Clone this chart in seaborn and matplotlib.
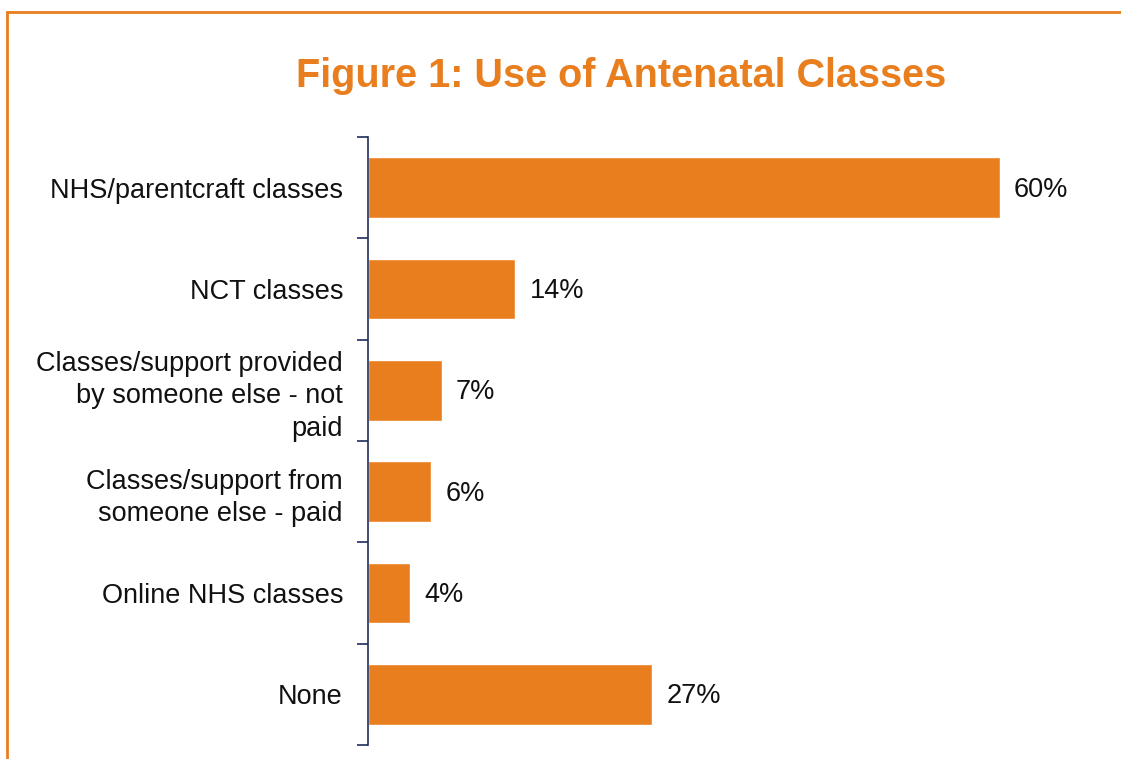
# Figure 1: uso de clases prenatales
import matplotlib.pyplot as plt
import seaborn as sns
import pandas as pd
from matplotlib.patches import Rectangle
from matplotlib.ticker import FixedLocator

categorias = [
    'NHS/parentcraft classes',
    'NCT classes',
    'Classes/support provided\nby someone else - not\npaid',
    'Classes/support from\nsomeone else - paid',
    'Online NHS classes',
    'None',
]
porcentajes = [60, 14, 7, 6, 4, 27]

naranja = '#E87E1E'
azul = '#1F2D5A'

df = pd.DataFrame({'Categoria': categorias, 'Porcentaje': porcentajes})

sns.set_style('white')
plt.rcParams['font.family'] = ['Liberation Sans', 'DejaVu Sans']

fig = plt.figure(figsize=(11.21, 7.59), dpi=100)
ax = fig.add_axes([368 / 1121, 14 / 759, (1105 - 368) / 1121, (745 - 137) / 759])

sns.barplot(data=df, y='Categoria', x='Porcentaje', orient='h', color=naranja,
            saturation=1, width=0.6, ax=ax)

ax.set_xlim(0, 70)
ax.set_ylim(len(categorias) - 0.5, -0.5)
ax.set_xlabel('')
ax.set_ylabel('')
ax.set_xticks([])

for s in ['top', 'right', 'bottom']:
    ax.spines[s].set_visible(False)
ax.spines['left'].set_color(azul)
ax.spines['left'].set_linewidth(1.2)

ax.tick_params(axis='y', which='major', left=False, length=0, pad=18, labelsize=19.5,
               labelcolor='#111111')
ax.yaxis.set_minor_locator(FixedLocator([i - 0.5 for i in range(len(categorias) + 1)]))
ax.tick_params(axis='y', which='minor', left=True, length=8, width=1.2, color=azul,
               direction='out')
for lbl in ax.get_yticklabels():
    lbl.set_horizontalalignment('right')
    lbl.set_multialignment('right')
    lbl.set_linespacing(1.31)

for i, v in enumerate(porcentajes):
    ax.text(v + 1.35, i + 0.02, f'{v}%', va='center', ha='left', fontsize=19.5,
            color='#111111')

fig.text(0.554, 0.9, 'Figure 1: Use of Antenatal Classes', ha='center', va='center',
         fontsize=28.5, fontweight='bold', color=naranja)

# marco naranja
fig.patches.append(Rectangle((7 / 1121, -0.1), 1.2, (759 - 12) / 759 + 0.1,
                             transform=fig.transFigure, fill=False,
                             edgecolor=naranja, linewidth=2))

plt.savefig('out.png', dpi=100)
plt.close()
